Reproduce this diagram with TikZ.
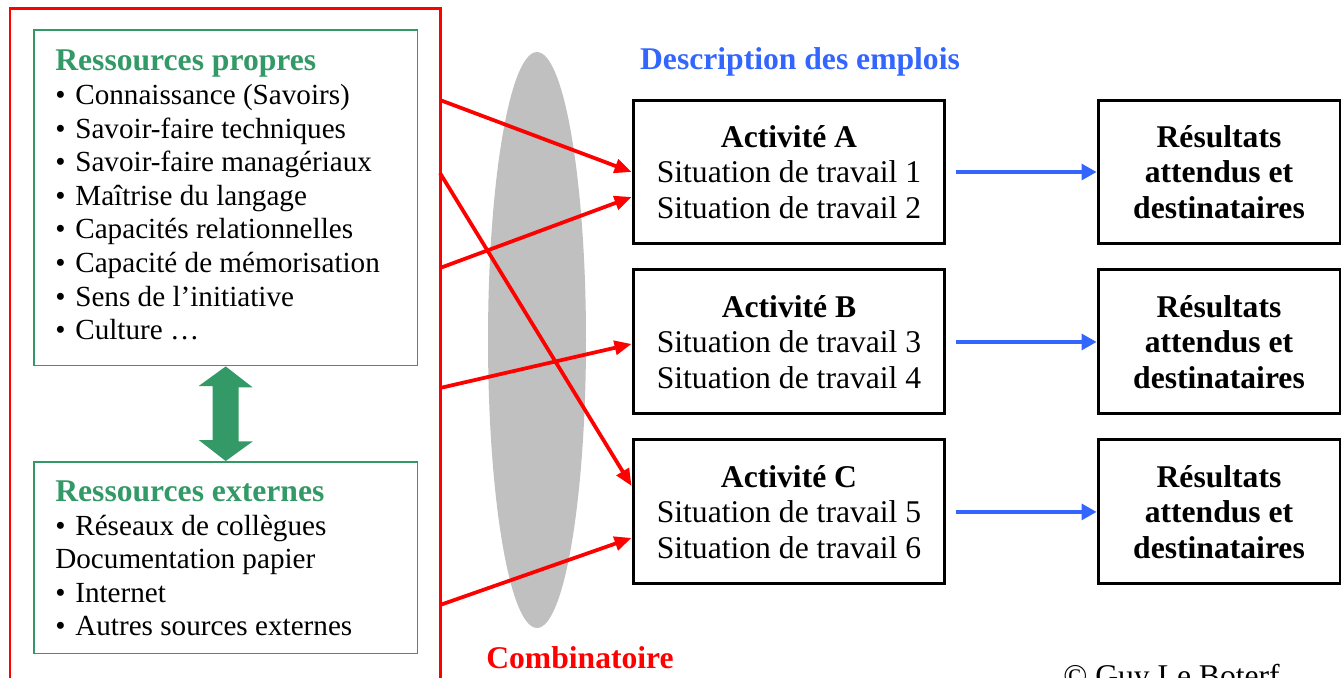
\documentclass[tikz,border=0pt]{standalone}
\usepackage{fontspec}
\setmainfont{Liberation Serif}
\usetikzlibrary{arrows.meta,positioning,shapes.geometric}
\definecolor{vert}{RGB}{51,153,102}
\definecolor{bleu}{RGB}{51,102,255}
\definecolor{gris}{RGB}{192,192,192}
\newcommand{\puce}{\makebox[0.4cm][l]{\textbullet}}

\begin{document}
\begin{tikzpicture}[x=0.02cm,y=-0.02cm,
  ressbox/.style={draw=vert, line width=0.03cm, minimum width=7.68cm, anchor=north west, inner sep=0pt},
  resstitle/.style={vert, anchor=base west, inner sep=0pt, font=\fontsize{18}{20}\selectfont\bfseries},
  item/.style={anchor=base west, inner sep=0pt, font=\fontsize{16.6}{19}\selectfont},
  actbox/.style={draw, line width=0.06cm, minimum width=6.24cm, minimum height=2.88cm, align=center, inner sep=0pt, font=\fontsize{18}{20.2}\selectfont},
  resbox/.style={actbox, minimum width=4.84cm, font=\fontsize{18}{20.2}\selectfont\bfseries},
  redarrow/.style={red, line width=0.075cm, -{Triangle[length=0.34cm,width=0.28cm]}},
  bluearrow/.style={bleu, line width=0.065cm, -{Triangle[length=0.3cm,width=0.32cm]}, shorten <=0.2cm},
  bigtitle/.style={inner sep=0pt, font=\fontsize{18}{20}\selectfont\bfseries}]

\useasboundingbox (0,0) rectangle (1344,677);

\node[ellipse, fill=gris, minimum width=1.96cm, minimum height=11.52cm, inner sep=0pt] (comb) at (537,340) {};

% ressources
\draw[red, line width=0.06cm] (10,8) rectangle (440,720);
\node[ressbox, minimum height=6.72cm] (propres) at (33,29) {};
\node[ressbox, minimum height=3.84cm] (externes) at (33,461) {};
\node[resstitle] (tpropres) at (55,70) {Ressources propres};
\foreach \txt [count=\i from 0] in {Connaissance (Savoirs), Savoir-faire techniques,
  Savoir-faire managériaux, Maîtrise du langage, Capacités relationnelles,
  Capacité de mémorisation, Sens de l’initiative, Culture …}
  \node[item] (p\i) at (55,{104.5+33.6*\i}) {\puce\txt};
\node[resstitle] (texternes) at (55,501) {Ressources externes};
\foreach \txt [count=\i from 0] in {\puce Réseaux de collègues, Documentation papier,
  \puce Internet, \puce Autres sources externes}
  \node[item] (e\i) at (55,{535+33.6*\i}) {\txt};
\fill[vert] (propres.south) -- ++(27,21) -- ++(-14,0) -- ++(0,54) -- ++(14,0)
  -- (externes.north) -- ++(-27,-21) -- ++(14,0) -- ++(0,-54) -- ++(-14,0) -- cycle;

% emplois
\node[bleu, bigtitle, anchor=base] (desc) at (800,69) {Description des emplois};
\node[actbox] (actA) at (789,172) {\textbf{Activité A}\\Situation de travail 1\\Situation de travail 2};
\node[actbox, below=0.46cm of actA] (actB) {\textbf{Activité B}\\Situation de travail 3\\Situation de travail 4};
\node[actbox, below=0.46cm of actB] (actC) {\textbf{Activité C}\\Situation de travail 5\\Situation de travail 6};
\node[resbox] (resA) at (1219,172) {Résultats\\attendus et\\destinataires};
\node[resbox, below=0.46cm of resA] (resB) {Résultats\\attendus et\\destinataires};
\node[resbox, below=0.46cm of resB] (resC) {Résultats\\attendus et\\destinataires};
\draw[bluearrow] (actA) -- (resA);
\draw[bluearrow] (actB) -- (resB);
\draw[bluearrow] (actC) -- (resC);

% combinatoire
\coordinate (r1) at (440,100);
\coordinate (r2) at (440,268);
\coordinate (r3) at (440,173);
\coordinate (r4) at (440,388);
\coordinate (r5) at (440,605);
\draw[redarrow] (r1) -- (actA.west);
\draw[redarrow] (r2) -- ([yshift=-0.5cm]actA.west);
\draw[redarrow] (r3) -- ([yshift=0.52cm]actC.west);
\draw[redarrow] (r4) -- ([yshift=-0.04cm]actB.west);
\draw[redarrow] (r5) -- ([yshift=-0.52cm]actC.west);
\node[red, bigtitle, anchor=base] (combi) at (580,668) {Combinatoire};
\node[anchor=base west, inner sep=0pt, font=\fontsize{18}{20}\selectfont] (copy) at (1063,686) {© Guy Le Boterf};
\end{tikzpicture}
\end{document}
